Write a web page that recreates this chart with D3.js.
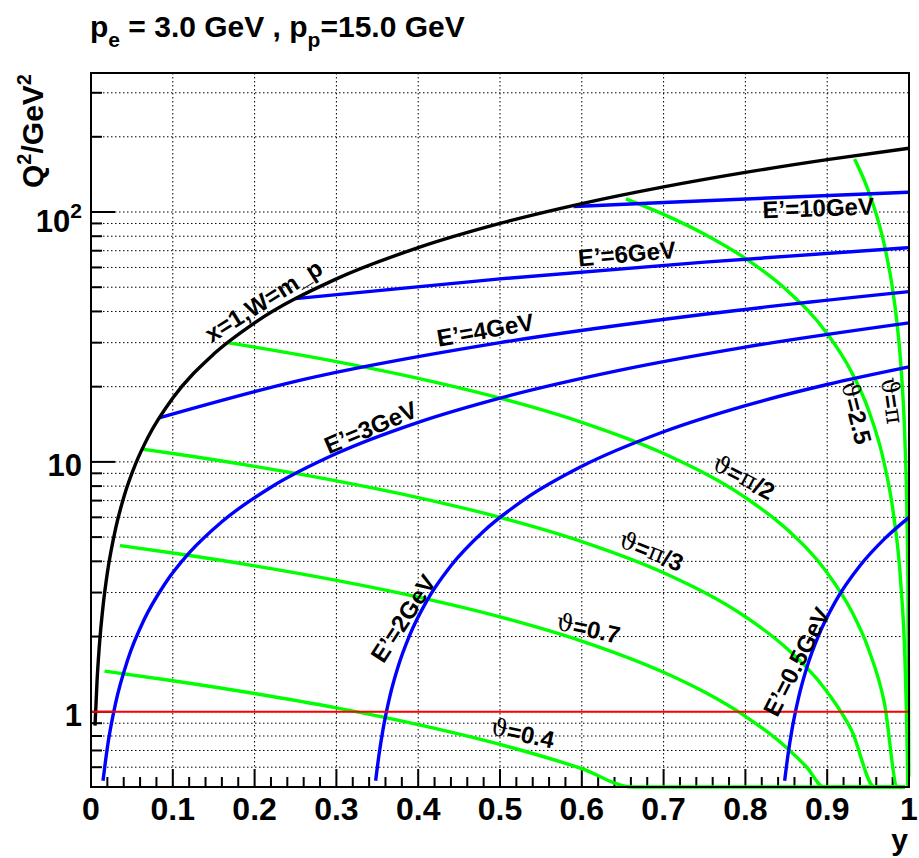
<!DOCTYPE html>
<html>
<head>
<meta charset="utf-8">
<script src="https://cdn.jsdelivr.net/npm/d3@7"></script>
<style>
  body { margin: 0; background: #fff; }
  text { font-family: "Liberation Sans", Arial, Helvetica, sans-serif; font-weight: bold; fill: #000; }
</style>
</head>
<body>
<div id="chart"></div>
<script>
// ---- data (y, Q^2 in GeV^2) ----

// kinematic limit x=1
const kinY  = [0.0049, 0.0075, 0.01, 0.015, 0.02, 0.03, 0.04, 0.055, 0.07, 0.1, 0.15, 0.2, 0.3, 0.4, 0.5, 0.6, 0.7, 0.8, 0.9, 1.0];
const kinQ2 = [0.88, 1.35, 1.8, 2.7, 3.6, 5.4, 7.2, 9.9, 12.6, 18, 27, 36, 54, 72, 90, 108, 126, 144, 162, 180];

// scattered electron energy lines
const e10Y  = [0.59, 0.7, 0.85, 1.0];
const e10Q2 = [105.2, 109.2, 114.6, 120];
const e6Y   = [0.25, 0.5, 0.75, 1.0];
const e6Q2  = [45, 54, 63, 72];
const e4Y   = [0.0833, 0.25, 0.5, 0.75, 1.0];
const e4Q2  = [15, 21, 30, 39, 48];
const e3Y   = [0.0147, 0.02, 0.03, 0.045, 0.065, 0.09, 0.12, 0.16, 0.22, 0.3, 0.4, 0.5, 0.65, 0.8, 1.0];
const e3Q2  = [0.53, 0.72, 1.08, 1.62, 2.34, 3.24, 4.32, 5.76, 7.92, 10.8, 14.4, 18, 23.4, 28.8, 36];
const e2Y   = [0.348, 0.352, 0.357, 0.365, 0.375, 0.39, 0.41, 0.44, 0.48, 0.53, 0.6, 0.7, 0.8, 0.9, 1.0];
const e2Q2  = [0.53, 0.67, 0.85, 1.14, 1.5, 2.04, 2.76, 3.84, 5.28, 7.08, 9.6, 13.2, 16.8, 20.4, 24];
const e05Y  = [0.848, 0.852, 0.857, 0.865, 0.875, 0.89, 0.91, 0.94, 0.97, 1.0];
const e05Q2 = [0.53, 0.67, 0.85, 1.14, 1.5, 2.04, 2.76, 3.84, 4.92, 6];

// scattering angle lines
const t04Y   = [0.0165, 0.1, 0.2, 0.3, 0.4, 0.5, 0.6, 0.662, 0.7, 0.8, 0.9, 0.995];
const t04Q2  = [1.455, 1.331, 1.183, 1.036, 0.888, 0.740, 0.592, 0.5, 0.444, 0.296, 0.148, 0.007];
const t07Y   = [0.0355, 0.1, 0.2, 0.3, 0.4, 0.5, 0.6, 0.7, 0.75, 0.8, 0.85, 0.875, 0.896, 0.95, 0.995];
const t07Q2  = [4.627, 4.317, 3.838, 3.358, 2.878, 2.399, 1.919, 1.439, 1.199, 0.959, 0.720, 0.600, 0.5, 0.240, 0.024];
const tPi3Y  = [0.0625, 0.1, 0.2, 0.3, 0.4, 0.5, 0.6, 0.7, 0.8, 0.85, 0.9, 0.93, 0.958, 0.995];
const tPi3Q2 = [11.25, 10.8, 9.6, 8.4, 7.2, 6, 4.8, 3.6, 2.4, 1.8, 1.2, 0.84, 0.5, 0.06];
const tPi2Y  = [0.1667, 0.2, 0.3, 0.4, 0.5, 0.6, 0.7, 0.8, 0.85, 0.9, 0.93, 0.95, 0.97, 0.986, 0.995];
const tPi2Q2 = [30, 28.8, 25.2, 21.6, 18, 14.4, 10.8, 7.2, 5.4, 3.6, 2.52, 1.8, 1.08, 0.5, 0.18];
const t25Y   = [0.654, 0.7, 0.75, 0.8, 0.85, 0.9, 0.93, 0.95, 0.97, 0.98, 0.99, 0.995, 0.998, 0.9985];
const t25Q2  = [112.8, 97.8, 81.5, 65.2, 48.9, 32.6, 22.8, 16.3, 9.78, 6.52, 3.26, 1.63, 0.65, 0.49];
const tPiY   = [0.9335, 0.94, 0.95, 0.96, 0.97, 0.98, 0.985, 0.99, 0.995, 0.9975, 0.999, 0.9998];
const tPiQ2  = [162.9, 147, 122.5, 98, 73.5, 49, 36.75, 24.5, 12.25, 6.13, 2.45, 0.55];

// Q^2 = 1 reference line
const refY  = [0, 1];
const refQ2 = [1, 1];

// labels
const xTickValues = [0, 0.1, 0.2, 0.3, 0.4, 0.5, 0.6, 0.7, 0.8, 0.9, 1];
const xTickLabels = ["0", "0.1", "0.2", "0.3", "0.4", "0.5", "0.6", "0.7", "0.8", "0.9", "1"];
const yTickValues = [1, 10, 100];
const yTickLabels = ["1", "10", "10^2"];
const curveLabels = ["x=1,W=m_p", "E’=10GeV", "E’=6GeV", "E’=4GeV", "E’=3GeV", "E’=2GeV", "E’=0.5GeV",
                     "ϑ=0.4", "ϑ=0.7", "ϑ=π/3", "ϑ=π/2", "ϑ=2.5", "ϑ=π"];

// ---- layout ----
const width = 919, height = 858;
const plotLeft = 91, plotRight = 909, plotTop = 73, plotBottom = 787;

const x = d3.scaleLinear().domain([0, 1]).range([plotLeft, plotRight]);
const y = d3.scaleLog().domain([0.5, 360]).range([plotBottom, plotTop]).clamp(true);

const svg = d3.select("#chart").append("svg")
  .attr("width", width)
  .attr("height", height);

// grid (dotted)
const yGrid = [];
[0.1, 1, 10, 100].forEach(dec => {
  for (let k = 1; k <= 9; k++) {
    const v = +(dec * k).toPrecision(3);
    if (v > 0.5 && v < 360) yGrid.push(v);
  }
});
const xGrid = d3.range(1, 10).map(i => i / 10);

svg.append("g").selectAll("line")
  .data(yGrid)
  .enter().append("line")
  .attr("x1", plotLeft).attr("x2", plotRight)
  .attr("y1", d => y(d)).attr("y2", d => y(d))
  .attr("stroke", "#000").attr("stroke-width", 1)
  .attr("stroke-dasharray", "1.5,2.5");

svg.append("g").selectAll("line")
  .data(xGrid)
  .enter().append("line")
  .attr("x1", d => x(d)).attr("x2", d => x(d))
  .attr("y1", plotTop).attr("y2", plotBottom)
  .attr("stroke", "#000").attr("stroke-width", 1)
  .attr("stroke-dasharray", "1.5,2.5");

// ticks
svg.append("g").selectAll("line")
  .data(yGrid)
  .enter().append("line")
  .attr("x1", plotLeft)
  .attr("x2", d => plotLeft + (yTickValues.includes(d) ? 24 : 11))
  .attr("y1", d => y(d)).attr("y2", d => y(d))
  .attr("stroke", "#000").attr("stroke-width", 2);

const xMinor = d3.range(1, 50).map(i => i / 50);
svg.append("g").selectAll("line")
  .data(xMinor)
  .enter().append("line")
  .attr("x1", d => x(d)).attr("x2", d => x(d))
  .attr("y1", plotBottom)
  .attr("y2", (d, i) => plotBottom - ((i + 1) % 5 === 0 ? 18 : 10))
  .attr("stroke", "#000").attr("stroke-width", 2);

// curves
const line = d3.line()
  .x(d => x(d[0]))
  .y(d => y(d[1]))
  .curve(d3.curveMonotoneX);

const zip = (a, b) => a.map((v, i) => [v, b[i]]);

const curves = [
  { pts: zip(t04Y, t04Q2), color: "#00ff00", w: 3.4 },
  { pts: zip(t07Y, t07Q2), color: "#00ff00", w: 3.4 },
  { pts: zip(tPi3Y, tPi3Q2), color: "#00ff00", w: 3.4 },
  { pts: zip(tPi2Y, tPi2Q2), color: "#00ff00", w: 3.4 },
  { pts: zip(t25Y, t25Q2), color: "#00ff00", w: 3.4 },
  { pts: zip(tPiY, tPiQ2), color: "#00ff00", w: 3.4 },
  { pts: zip(e10Y, e10Q2), color: "#0000ff", w: 3.4 },
  { pts: zip(e6Y, e6Q2), color: "#0000ff", w: 3.4 },
  { pts: zip(e4Y, e4Q2), color: "#0000ff", w: 3.4 },
  { pts: zip(e3Y, e3Q2), color: "#0000ff", w: 3.4 },
  { pts: zip(e2Y, e2Q2), color: "#0000ff", w: 3.4 },
  { pts: zip(e05Y, e05Q2), color: "#0000ff", w: 3.4 },
  { pts: zip(kinY, kinQ2), color: "#000000", w: 3.4 },
  { pts: zip(refY, refQ2), color: "#ff0000", w: 2 }
];

svg.append("g").selectAll("path")
  .data(curves)
  .enter().append("path")
  .attr("d", d => line(d.pts))
  .attr("fill", "none")
  .attr("stroke", d => d.color)
  .attr("stroke-width", d => d.w)
  .attr("stroke-linejoin", "round");

// frame
svg.append("rect")
  .attr("x", plotLeft).attr("y", plotTop)
  .attr("width", plotRight - plotLeft).attr("height", plotBottom - plotTop)
  .attr("fill", "none").attr("stroke", "#000").attr("stroke-width", 2);

// x tick labels
svg.append("g").selectAll("text")
  .data(xTickValues)
  .enter().append("text")
  .attr("x", d => x(d))
  .attr("y", 820)
  .attr("text-anchor", "middle")
  .style("font-size", "32px")
  .text((d, i) => xTickLabels[i]);

// y tick labels
yTickValues.forEach((v, i) => {
  const parts = yTickLabels[i].split("^");
  const t = svg.append("text")
    .attr("x", 82)
    .attr("y", y(v) + (parts.length > 1 ? 20 : 14))
    .attr("text-anchor", "end")
    .style("font-size", "31px")
    .text(parts[0]);
  if (parts.length > 1) {
    t.append("tspan").attr("dy", -14).style("font-size", "21px").text(parts[1]);
  }
});

// axis titles
const yTitle = svg.append("text")
  .attr("transform", "translate(43,74) rotate(-90)")
  .attr("text-anchor", "end")
  .style("font-size", "30px");
yTitle.append("tspan").text("Q");
yTitle.append("tspan").attr("dy", -12).style("font-size", "20px").text("2");
yTitle.append("tspan").attr("dy", 12).text("/GeV");
yTitle.append("tspan").attr("dy", -12).style("font-size", "20px").text("2");

svg.append("text")
  .attr("x", 908).attr("y", 850)
  .attr("text-anchor", "end")
  .style("font-size", "30px")
  .text("y");

// title
const title = svg.append("text")
  .attr("x", 90).attr("y", 37)
  .style("font-size", "30px");
title.append("tspan").text("p");
title.append("tspan").attr("dy", 10).style("font-size", "21px").text("e");
title.append("tspan").attr("dy", -10).text(" = 3.0 GeV , p");
title.append("tspan").attr("dy", 10).style("font-size", "21px").text("p");
title.append("tspan").attr("dy", -10).text("=15.0 GeV");

// curve labels: [y, Q2, rotation]
const labelAnchors = [
  [0.2105, 44.3, -32], [0.889, 104.4, -2], [0.655, 68.4, -5], [0.482, 33.9, -10],
  [0.3415, 13.8, -23], [0.381, 2.37, -57], [0.862, 1.59, -63],
  [0.5275, 0.822, 12], [0.608, 2.16, 12], [0.685, 4.39, 22], [0.798, 8.69, 28],
  [0.936, 15.8, 76], [0.979, 17.6, 82]
];

curveLabels.forEach((txt, i) => {
  const a = labelAnchors[i];
  const t = svg.append("text")
    .attr("transform", `translate(${x(a[0])},${y(a[1])}) rotate(${a[2]})`)
    .attr("text-anchor", "middle")
    .attr("dominant-baseline", "central")
    .style("font-size", "24px");
  // greek letters in a serif face, like the original
  txt.split(/([ϑπ])/).filter(s => s.length).forEach(s => {
    const sp = t.append("tspan").text(s);
    if (s === "ϑ" || s === "π") {
      sp.style("font-family", "'DejaVu Serif', serif").style("font-weight", "normal");
    }
  });
});
</script>
</body>
</html>
